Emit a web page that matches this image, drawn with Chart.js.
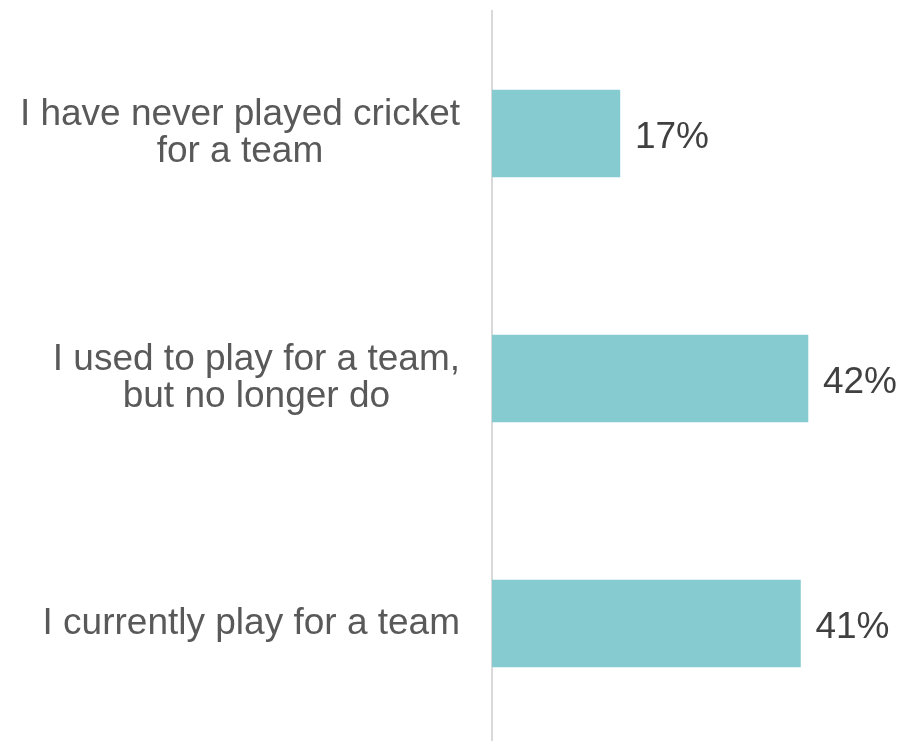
<!DOCTYPE html>
<html>
<head>
<meta charset="utf-8">
<title>Team cricket participation</title>
<script src="https://cdn.jsdelivr.net/npm/chart.js@4/dist/chart.umd.min.js"></script>
<style>
  html, body { margin: 0; padding: 0; background: #ffffff; overflow: hidden; }
  /* the plot runs a few pixels past the bottom edge, so the frame clips it */
  #wrap { width: 902px; height: 741px; position: relative; overflow: hidden; }
  #chart { display: block; }
</style>
</head>
<body>
<div id="wrap"><canvas id="chart" width="902" height="746"></canvas></div>
<script>
// Survey answers (each entry is a list of label lines) and share of respondents, %
const categories = [
  ['I have never played cricket', 'for a team'],
  ['I used to play for a team,', 'but no longer do'],
  ['I currently play for a team']
];
const values = [17, 42, 41];

const FONT = '"Liberation Sans", Arial, sans-serif';
const FONT_SIZE = 37;
const LINE_PITCH = 37.5;

// Category labels: each block is right-aligned against the axis,
// its lines centred within the block's own width.
const categoryLabels = {
  id: 'categoryLabels',
  afterDraw(chart) {
    const { ctx, scales } = chart;
    const y = scales.y;
    const right = chart.chartArea.left - 32;
    ctx.save();
    ctx.font = FONT_SIZE + 'px ' + FONT;
    ctx.fillStyle = '#595959';
    ctx.textAlign = 'center';
    ctx.textBaseline = 'alphabetic';
    categories.forEach((lines, i) => {
      const cy = y.getPixelForValue(i);
      const widest = Math.max(...lines.map(l => ctx.measureText(l).width));
      const cx = right - widest / 2;
      const n = lines.length;
      const first = cy - 3 - ((n - 1) * LINE_PITCH - 0.716 * FONT_SIZE) / 2;
      lines.forEach((line, k) => ctx.fillText(line, cx, first + k * LINE_PITCH));
    });
    ctx.restore();
  }
};

// Percentage label just past the end of each bar
const valueLabels = {
  id: 'valueLabels',
  afterDatasetsDraw(chart) {
    const { ctx } = chart;
    const meta = chart.getDatasetMeta(0);
    ctx.save();
    ctx.font = FONT_SIZE + 'px ' + FONT;
    ctx.fillStyle = '#404040';
    ctx.textAlign = 'left';
    ctx.textBaseline = 'alphabetic';
    meta.data.forEach((bar, i) => {
      ctx.fillText(values[i] + '%', bar.x + 15, bar.y + 14.5);
    });
    ctx.restore();
  }
};

new Chart(document.getElementById('chart'), {
  type: 'bar',
  data: {
    labels: categories.map(l => l.join(' ')),
    datasets: [{
      data: values,
      backgroundColor: '#85CBCF',
      borderWidth: 0,
      barThickness: 87
    }]
  },
  options: {
    indexAxis: 'y',
    responsive: false,
    animation: false,
    events: [],
    layout: { padding: { top: 11, bottom: 0, left: 0, right: 0 } },
    plugins: {
      legend: { display: false },
      tooltip: { enabled: false }
    },
    scales: {
      x: {
        type: 'linear',
        min: 0,
        max: 54.5,
        display: false
      },
      y: {
        type: 'category',
        offset: true,
        grid: { display: false },
        border: { display: true, color: '#D9D9D9', width: 2 },
        ticks: { display: false },
        afterFit(scale) { scale.width = 492; }
      }
    }
  },
  plugins: [categoryLabels, valueLabels]
});
</script>
</body>
</html>
